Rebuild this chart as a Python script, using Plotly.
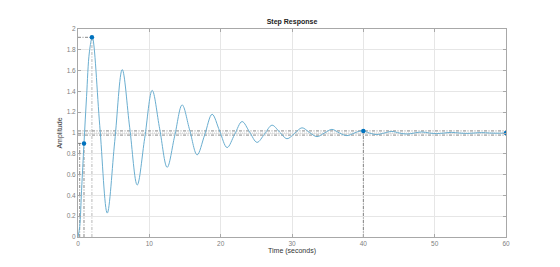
import plotly.graph_objects as go

# Step response samples (extrema and mid-swing points)
time_s = [0, 0.24, 0.5, 0.84, 1.2, 1.6, 2.0, 3.05, 4.1, 5.15, 6.2, 7.25, 8.3, 9.35,
          10.4, 11.45, 12.5, 13.55, 14.6, 15.65, 16.7, 17.75, 18.8, 19.85, 20.9,
          21.95, 23.0, 24.05, 25.1, 26.15, 27.2, 28.25, 29.3, 30.35, 31.4, 32.45,
          33.5, 34.55, 35.6, 36.65, 37.7, 38.75, 39.8, 40.85, 41.9, 42.95, 44.0,
          45.05, 46.1, 47.15, 48.2, 49.25, 50.3, 51.35, 52.4, 53.45, 54.5, 55.55,
          56.6, 57.65, 58.7, 60.0]
amplitude = [0, 0.1, 0.45, 0.9, 1.35, 1.78, 1.92, 1.07, 0.23, 0.92, 1.61, 1.05, 0.50, 0.95,
             1.41, 1.04, 0.67, 0.97, 1.27, 1.03, 0.79, 0.98, 1.18, 1.02, 0.86,
             0.985, 1.11, 1.01, 0.91, 0.99, 1.075, 1.01, 0.945, 0.995, 1.05, 1.005,
             0.965, 1.0, 1.035, 1.0, 0.975, 1.0, 1.022, 1.0, 0.985, 1.0, 1.015,
             1.0, 0.99, 1.0, 1.01, 1.0, 0.994, 1.0, 1.006, 1.0, 0.996, 1.0,
             1.004, 1.0, 0.998, 1.0]

# Characteristics
rise_t10, rise_t90, rise_amp = 0.24, 0.84, 0.9
peak_t, peak_amp = 1.95, 1.92
settle_t, settle_amp = 40.0, 1.02
band_hi, band_lo = 1.02, 0.98
final_t, final_amp = 60.0, 1.0

x_ticks = [0, 10, 20, 30, 40, 50, 60]
y_ticks = [0, 0.2, 0.4, 0.6, 0.8, 1, 1.2, 1.4, 1.6, 1.8, 2]
y_tick_text = ["0", "0.2", "0.4", "0.6", "0.8", "1", "1.2", "1.4", "1.6", "1.8", "2"]

dash_col = "#555555"
dash_pat = "3px,1.5px,1px,1.5px"
fig = go.Figure()

def guide(xs, ys, color=dash_col, dash=dash_pat, width=0.7):
    fig.add_trace(go.Scatter(x=xs, y=ys, mode="lines", hoverinfo="skip",
                             line=dict(color=color, width=width, dash=dash)))

# steady state and settling band
guide([0, final_t], [final_amp, final_amp], color="#c0c0c0", dash="1px,1px")
guide([0, final_t], [band_hi, band_hi])
guide([0, final_t], [band_lo, band_lo])
guide([settle_t, settle_t], [0, settle_amp])
# rise time
guide([rise_t10, rise_t10], [0, rise_amp])
guide([rise_t90, rise_t90], [0, rise_amp])
guide([0, rise_t90], [rise_amp, rise_amp])
# peak
guide([peak_t, peak_t], [0, peak_amp], color="#9a9a9a")
guide([0, peak_t], [peak_amp, peak_amp])

fig.add_trace(go.Scatter(x=time_s, y=amplitude, mode="lines",
                         line=dict(color="#6aaed0", width=1, shape="spline", smoothing=1.0)))

fig.add_trace(go.Scatter(x=[rise_t90, peak_t, settle_t, final_t],
                         y=[rise_amp, peak_amp, settle_amp, final_amp],
                         mode="markers", marker=dict(color="#0072BD", size=4.5)))

axis_common = dict(showline=True, linecolor="#a8a8a8", linewidth=1, mirror="allticks",
                   ticks="inside", ticklen=3, tickcolor="#a8a8a8",
                   showgrid=True, gridcolor="#e6e6e6", gridwidth=1, zeroline=False,
                   tickfont=dict(size=6.5, color="#808080", family="Liberation Sans"))

fig.update_layout(
    width=560, height=267, margin=dict(l=78, r=54, t=29, b=30),
    paper_bgcolor="white", plot_bgcolor="white", showlegend=False,
    title=dict(text="<b>Step Response</b>", x=0.5, xref="paper", y=1 - 21.5 / 267,
               yref="container", xanchor="center", yanchor="middle",
               font=dict(size=7, color="#222", family="Liberation Sans")),
    xaxis=dict(range=[0, 60], tickvals=x_ticks, ticktext=[str(v) for v in x_ticks],
               title=dict(text="Time (seconds)", standoff=1,
                          font=dict(size=7, color="#333", family="Liberation Sans")),
               **axis_common),
    yaxis=dict(range=[0, 2], tickvals=y_ticks, ticktext=y_tick_text,
               title=dict(text="Amplitude", standoff=3,
                          font=dict(size=7, color="#333", family="Liberation Sans")),
               **axis_common),
)

fig.write_html("out.html")
